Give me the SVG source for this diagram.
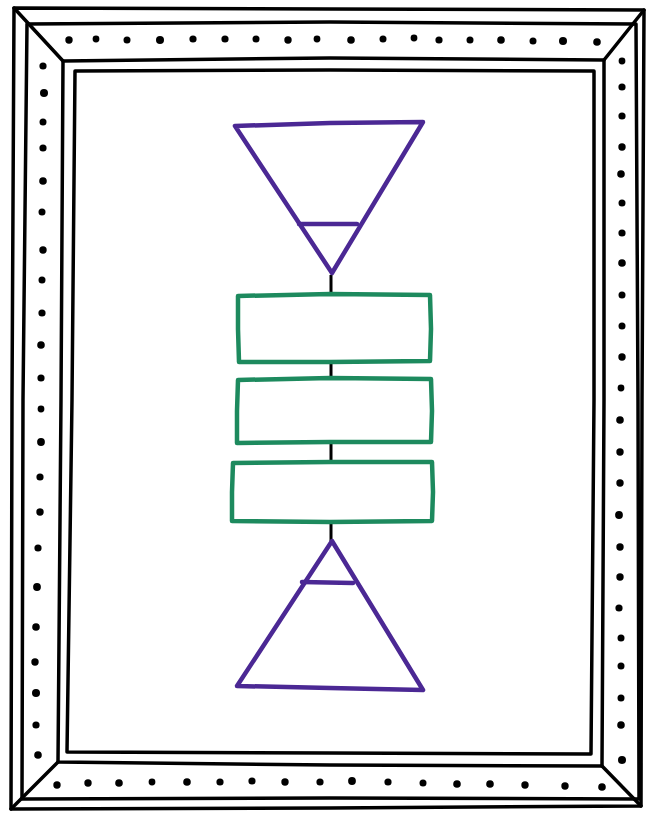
<svg xmlns="http://www.w3.org/2000/svg" width="647" height="814" viewBox="0 0 647 814">
<style>
.fr{fill:none;stroke:#000;stroke-width:3.5;stroke-linejoin:round;stroke-linecap:round}
.dot{fill:#000}
.tri{fill:none;stroke:#4b2894;stroke-width:4.5;stroke-linejoin:round;stroke-linecap:round}
.box{fill:none;stroke:#1d8a5e;stroke-width:4.5;stroke-linejoin:round;stroke-linecap:round}
.con{fill:none;stroke:#000;stroke-width:3}
</style>
<rect width="647" height="814" fill="#fff"/>
<g id="frame">
<path class="fr" d="M14,8 L330,9 L644,10 L642,400 L641,806 L330,808 L11,809 L12,400 Z"/>
<path class="fr" d="M27,24 L330,22 L636,24 L638,400 L639,799 L330,798 L22,799 L23,400 Z"/>
<path class="fr" d="M63,61 L330,58 L604,60 L604,400 L602,766 L330,765 L58,762 L61,400 Z"/>
<path class="fr" d="M75,71 L330,70 L594,71 L594,400 L591,754 L330,753 L67,752 L72,400 Z"/>
<path class="fr" d="M14,8 L63,61 M644,10 L604,60 M641,806 L602,766 M11,809 L58,762"/>
</g>
<g id="dots">
<g class="dot">
<circle cx="69" cy="40" r="3.7"/><circle cx="96" cy="39" r="3.4"/><circle cx="127" cy="40" r="3.5"/><circle cx="160" cy="40" r="4"/><circle cx="193" cy="39" r="3.6"/><circle cx="225" cy="39" r="3.6"/><circle cx="256" cy="39" r="3.5"/><circle cx="288" cy="40" r="3.7"/><circle cx="317" cy="39" r="3.4"/><circle cx="351" cy="40" r="3.8"/><circle cx="383" cy="39" r="3.5"/><circle cx="414" cy="38" r="3.4"/><circle cx="439" cy="40" r="3.6"/><circle cx="470" cy="40" r="3.5"/><circle cx="501" cy="40" r="3.8"/><circle cx="533" cy="41" r="3.5"/><circle cx="563" cy="41" r="4"/><circle cx="597" cy="42" r="3.8"/>
<circle cx="57" cy="785" r="3.7"/><circle cx="88" cy="783" r="3.7"/><circle cx="119" cy="783" r="3.8"/><circle cx="152" cy="782" r="3.4"/><circle cx="187" cy="782" r="3.8"/><circle cx="220" cy="782" r="3.6"/><circle cx="252" cy="781" r="3.6"/><circle cx="285" cy="782" r="3.7"/><circle cx="320" cy="782" r="3.6"/><circle cx="352" cy="781" r="3.9"/><circle cx="388" cy="782" r="3.6"/><circle cx="423" cy="783" r="3.5"/><circle cx="457" cy="784" r="3.8"/><circle cx="490" cy="784" r="3.8"/><circle cx="525" cy="785" r="3.7"/><circle cx="565" cy="786" r="3.7"/><circle cx="602" cy="787" r="3.8"/>
<circle cx="43" cy="66" r="3.6"/><circle cx="44" cy="93" r="4"/><circle cx="43" cy="122" r="3.5"/><circle cx="43" cy="148" r="3.6"/><circle cx="43" cy="181" r="3.8"/><circle cx="42" cy="212" r="3.5"/><circle cx="43" cy="250" r="3.7"/><circle cx="42" cy="280" r="3.5"/><circle cx="42" cy="313" r="3.6"/><circle cx="41" cy="345" r="3.8"/><circle cx="41" cy="378" r="3.6"/><circle cx="41" cy="409" r="3.4"/><circle cx="41" cy="442" r="3.9"/><circle cx="40" cy="477" r="3.6"/><circle cx="40" cy="512" r="3.7"/><circle cx="38" cy="548" r="3.6"/><circle cx="37" cy="587" r="3.9"/><circle cx="36" cy="627" r="3.8"/><circle cx="35" cy="662" r="3.7"/><circle cx="36" cy="693" r="4"/><circle cx="36" cy="725" r="3.6"/><circle cx="38" cy="755" r="3.8"/>
<circle cx="622" cy="61" r="3.4"/><circle cx="622" cy="87" r="3.6"/><circle cx="622" cy="116" r="3.6"/><circle cx="622" cy="147" r="3.7"/><circle cx="621" cy="174" r="3.8"/><circle cx="622" cy="203" r="3.5"/><circle cx="622" cy="233" r="3.6"/><circle cx="622" cy="263" r="3.8"/><circle cx="622" cy="295" r="3.5"/><circle cx="622" cy="326" r="3.5"/><circle cx="622" cy="357" r="3.7"/><circle cx="621" cy="388" r="3.4"/><circle cx="620" cy="420" r="3.8"/><circle cx="620" cy="452" r="3.7"/><circle cx="620" cy="483" r="3.7"/><circle cx="619" cy="515" r="3.9"/><circle cx="620" cy="547" r="3.7"/><circle cx="620" cy="577" r="3.7"/><circle cx="619" cy="608" r="3.6"/><circle cx="621" cy="638" r="3.5"/><circle cx="621" cy="666" r="3.5"/><circle cx="621" cy="698" r="3.5"/><circle cx="621" cy="725" r="3.8"/><circle cx="622" cy="760" r="4"/>
</g>
</g>
<g id="connectors">
<path class="con" d="M331,275 L331,294 M331,362 L331,378 M331,443 L331,462 M331,522 L331,541"/>
</g>
<g id="triangle-top">
<path class="tri" d="M235,126 L330,123 L423,122 L332,273 Z"/>
<path class="tri" d="M299,224 L357,224"/>
</g>
<g id="box-1"><path class="box" d="M238,296 L330,294 L430,295 L431,329 L430,361 L330,362 L239,362 L238,329 Z"/></g>
<g id="box-2"><path class="box" d="M238,380 L330,378 L431,379 L432,411 L431,442 L330,442 L237,443 L237,411 Z"/></g>
<g id="box-3"><path class="box" d="M233,463 L330,462 L432,462 L433,492 L432,521 L330,522 L232,521 L232,492 Z"/></g>
<g id="triangle-bottom">
<path class="tri" d="M332,541 L423,690 L330,688 L237,686 Z"/>
<path class="tri" d="M302,582 L353,583"/>
</g>
</svg>
